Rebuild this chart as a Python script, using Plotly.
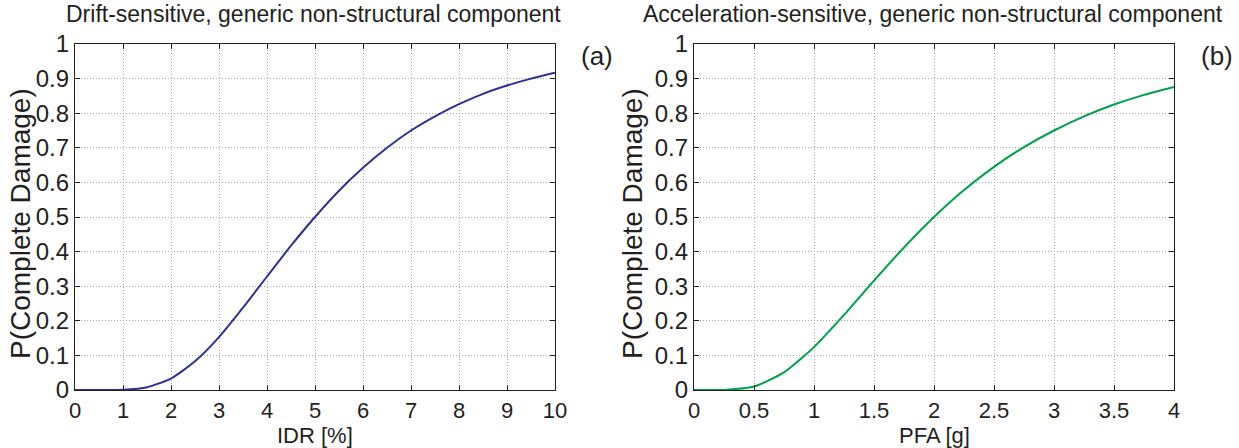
import plotly.graph_objects as go

# ---- data ----
idr = [0, 0.5, 1.0, 1.5, 2.0, 2.5, 3.0, 3.5, 4.0, 4.5, 5.0, 5.5, 6.0, 6.5, 7.0, 7.5, 8.0, 8.5, 9.0, 9.5, 10.0]
p_idr = [0, 0.0, 0.0006, 0.008, 0.033, 0.083, 0.153, 0.238, 0.328, 0.417, 0.5, 0.576, 0.642, 0.700, 0.750,
         0.791, 0.826, 0.856, 0.880, 0.900, 0.917]

pfa = [0, 0.25, 0.5, 0.75, 1.0, 1.25, 1.5, 1.75, 2.0, 2.25, 2.5, 2.75, 3.0, 3.25, 3.5, 3.75, 4.0]
p_pfa = [0, 0.0003, 0.010, 0.051, 0.124, 0.217, 0.316, 0.412, 0.5, 0.578, 0.645, 0.702, 0.750, 0.791,
         0.825, 0.853, 0.876]

y_ticks = [0, 0.1, 0.2, 0.3, 0.4, 0.5, 0.6, 0.7, 0.8, 0.9, 1.0]
y_ticktext = ["0", "0.1", "0.2", "0.3", "0.4", "0.5", "0.6", "0.7", "0.8", "0.9", "1"]
idr_ticks = [0, 1, 2, 3, 4, 5, 6, 7, 8, 9, 10]
pfa_ticks = [0, 0.5, 1, 1.5, 2, 2.5, 3, 3.5, 4]
pfa_ticktext = ["0", "0.5", "1", "1.5", "2", "2.5", "3", "3.5", "4"]

titles = ["Drift-sensitive, generic non-structural component",
          "Acceleration-sensitive, generic non-structural component"]
x_titles = ["IDR [%]", "PFA [g]"]
y_title = "P(Complete Damage)"
panel_tags = ["(a)", "(b)"]

W, H = 1239, 448
FONT = "Liberation Sans, Arial, Helvetica, sans-serif"
TXT = "#231f20"

fig = go.Figure()
fig.add_trace(go.Scatter(x=idr, y=p_idr, mode="lines", xaxis="x", yaxis="y",
                         line=dict(color="#2e3192", width=2, shape="spline", smoothing=0.6),
                         showlegend=False))
fig.add_trace(go.Scatter(x=pfa, y=p_pfa, mode="lines", xaxis="x2", yaxis="y2",
                         line=dict(color="#00a04b", width=2, shape="spline", smoothing=0.6),
                         showlegend=False))

px = lambda v: v / W
py = lambda v: 1 - v / H
ydom = [py(390), py(44)]

xtickfont = dict(family=FONT, size=22, color=TXT)
ytickfont = dict(family=FONT, size=24, color=TXT)
common = dict(showgrid=True, gridcolor="#a8a8a8", griddash="1px,2px", gridwidth=1,
              showline=True, linecolor="#231f20", linewidth=1.3, mirror="ticks",
              ticks="inside", ticklen=5, tickcolor="#231f20", zeroline=False,
              automargin=False, ticklabelstandoff=0)

fig.update_layout(
    width=W, height=H, margin=dict(l=0, r=0, t=0, b=0, autoexpand=False),
    paper_bgcolor="white", plot_bgcolor="white",
    xaxis=dict(domain=[px(75), px(555)], range=[0, 10], tickvals=idr_ticks, anchor="y",
               tickfont=xtickfont, **common),
    yaxis=dict(domain=ydom, range=[0, 1], tickvals=y_ticks, ticktext=y_ticktext, anchor="x",
               tickfont=ytickfont, **common),
    xaxis2=dict(domain=[px(694), px(1174)], range=[0, 4], tickvals=pfa_ticks, ticktext=pfa_ticktext,
                anchor="y2", tickfont=xtickfont, **common),
    yaxis2=dict(domain=ydom, range=[0, 1], tickvals=y_ticks, ticktext=y_ticktext, anchor="x2",
                tickfont=ytickfont, **common),
)

def ann(text, x, y, size, angle=0):
    fig.add_annotation(text=text, x=px(x), y=py(y), xref="paper", yref="paper",
                       showarrow=False, xanchor="center", yanchor="middle", textangle=angle,
                       font=dict(family=FONT, size=size, color=TXT))

ann(titles[0], 313, 14, 23)
ann(titles[1], 933, 14, 23)
ann(x_titles[0], 315, 435, 22)
ann(x_titles[1], 934, 435, 22)
ann(y_title, 20, 224, 28, -90)
ann(y_title, 632, 224, 28, -90)
ann(panel_tags[0], 597, 56, 26)
ann(panel_tags[1], 1217, 56, 26)

fig.write_html("out.html")
